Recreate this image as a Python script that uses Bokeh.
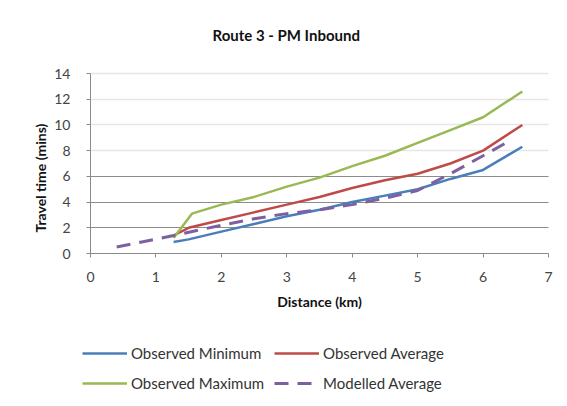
from bokeh.plotting import figure
from bokeh.models import Legend, LegendItem, FixedTicker, Grid, Range1d, Title
from bokeh.embed import file_html
from bokeh.resources import INLINE

# ---- data ----
obs_distance = [1.27, 1.5, 2.0, 2.5, 3.0, 3.5, 4.0, 4.5, 5.0, 5.5, 6.0, 6.6]
obs_minimum = [0.9, 1.1, 1.7, 2.3, 2.9, 3.4, 4.0, 4.5, 5.0, 5.8, 6.5, 8.3]
obs_average = [1.4, 2.0, 2.6, 3.2, 3.8, 4.4, 5.1, 5.7, 6.2, 7.0, 8.0, 10.0]
max_distance = [1.27, 1.55, 2.0, 2.5, 3.0, 3.5, 4.0, 4.5, 5.0, 5.5, 6.0, 6.6]
obs_maximum = [1.2, 3.1, 3.8, 4.4, 5.2, 5.9, 6.8, 7.6, 8.6, 9.6, 10.6, 12.6]
mod_distance = [0.4, 1.27, 2.0, 2.5, 3.0, 3.5, 4.0, 4.5, 5.0, 5.5, 6.0, 6.35]
mod_average = [0.5, 1.4, 2.2, 2.7, 3.1, 3.4, 3.8, 4.3, 4.9, 6.2, 7.6, 8.6]
x_ticks = [0, 1, 2, 3, 4, 5, 6, 7]
y_ticks = [0, 2, 4, 6, 8, 10, 12, 14]
dark_grid = [2, 4, 6]
light_grid = [8, 10, 12, 14]

FONT = "Lato"

# layout (pixels)
W, H = 559, 398
FRAME_TOP = 60           # top edge of the drawing frame
FRAME_LEFT = 50          # left edge of the drawing frame (after the y title)
AX_TOP, AX_BOTTOM = 73, 253   # where travel time 14 and 0 sit
AX_LEFT, AX_RIGHT = 90, 548   # where distance 0 and 7 sit

x_px = (AX_RIGHT - AX_LEFT) / (x_ticks[-1] - x_ticks[0])
y_px = (AX_BOTTOM - AX_TOP) / (y_ticks[-1] - y_ticks[0])
x_start = x_ticks[0] - (AX_LEFT - FRAME_LEFT) / x_px
x_end = x_ticks[-1] + (W - AX_RIGHT) / x_px
y_start = y_ticks[0] - (H - AX_BOTTOM) / y_px
y_end = y_ticks[-1] + (AX_TOP - FRAME_TOP) / y_px

p = figure(width=W, height=H, output_backend="svg", toolbar_location=None,
           x_range=Range1d(x_start, x_end), y_range=Range1d(y_start, y_end),
           min_border_left=FRAME_LEFT, min_border_right=0, min_border_top=FRAME_TOP,
           min_border_bottom=0)
p.outline_line_color = None
p.background_fill_color = "white"
p.border_fill_color = "white"

t = Title(text="Route 3 - PM Inbound", align="left", text_font=FONT,
          text_font_size="15px", text_font_style="bold", text_color="#111111",
          offset=212 - FRAME_LEFT, standoff=34)
p.add_layout(t, "above")

ytitle = Title(text="Travel time (mins)", align="left", text_font=FONT,
               text_font_size="14px", text_font_style="bold", text_color="#111111",
               offset=H - 232, standoff=4)
p.add_layout(ytitle, "left")

p.xgrid.visible = False
p.ygrid.ticker = FixedTicker(ticks=light_grid)
p.ygrid.grid_line_color = "#e6e6e6"
p.ygrid.grid_line_width = 1.5
p.ygrid.cross_bounds = (x_ticks[0], x_ticks[-1])
g2 = Grid(dimension=1, ticker=FixedTicker(ticks=dark_grid), grid_line_color="#8c8c8c",
          grid_line_width=1.2, cross_bounds=(x_ticks[0], x_ticks[-1]))
p.add_layout(g2)

for ax in (p.xaxis[0], p.yaxis[0]):
    ax.axis_line_color = "#8a8a8a"
    ax.major_tick_line_color = "#8a8a8a"
    ax.major_tick_out = 4
    ax.major_tick_in = 0
    ax.minor_tick_line_color = None
    ax.major_label_text_font = FONT
    ax.major_label_text_font_size = "14px"
    ax.major_label_text_color = "#444444"
    ax.axis_label_text_font = FONT
    ax.axis_label_text_font_style = "bold"
    ax.axis_label_text_font_size = "14px"
    ax.axis_label_text_color = "#111111"

p.xaxis.ticker = FixedTicker(ticks=x_ticks)
p.yaxis.ticker = FixedTicker(ticks=y_ticks)
p.xaxis.fixed_location = y_ticks[0]
p.yaxis.fixed_location = x_ticks[0]
p.xaxis.bounds = (x_ticks[0], x_ticks[-1])
p.yaxis.bounds = (y_ticks[0], y_ticks[-1])
p.xaxis.axis_label = "Distance (km)"
p.xaxis.major_label_standoff = 14
p.xaxis.axis_label_standoff = 8
p.yaxis.major_label_standoff = 16

r_min = p.line(obs_distance, obs_minimum, line_color="#4a7ebb", line_width=2.5)
r_avg = p.line(obs_distance, obs_average, line_color="#be4b48", line_width=2.5)
r_max = p.line(max_distance, obs_maximum, line_color="#98b954", line_width=2.5)
r_mod = p.line(mod_distance, mod_average, line_color="#7d60a0", line_width=3,
               line_dash="14 9")

legend = Legend(items=[
    LegendItem(label="Observed Minimum", renderers=[r_min]),
    LegendItem(label="Observed Average", renderers=[r_avg]),
    LegendItem(label="Observed Maximum", renderers=[r_max]),
    LegendItem(label="Modelled Average", renderers=[r_mod]),
], orientation="horizontal", ncols=2, location=(82 - FRAME_LEFT, 5))
legend.label_text_font = FONT
legend.label_text_font_size = "15px"
legend.label_text_color = "#333333"
legend.glyph_width = 45
legend.glyph_height = 20
legend.label_standoff = 4
legend.spacing = 10
legend.padding = 0
legend.margin = 0
legend.border_line_color = None
legend.background_fill_alpha = 0
p.add_layout(legend, "center")

open("out.html", "w").write(file_html(p, INLINE))
